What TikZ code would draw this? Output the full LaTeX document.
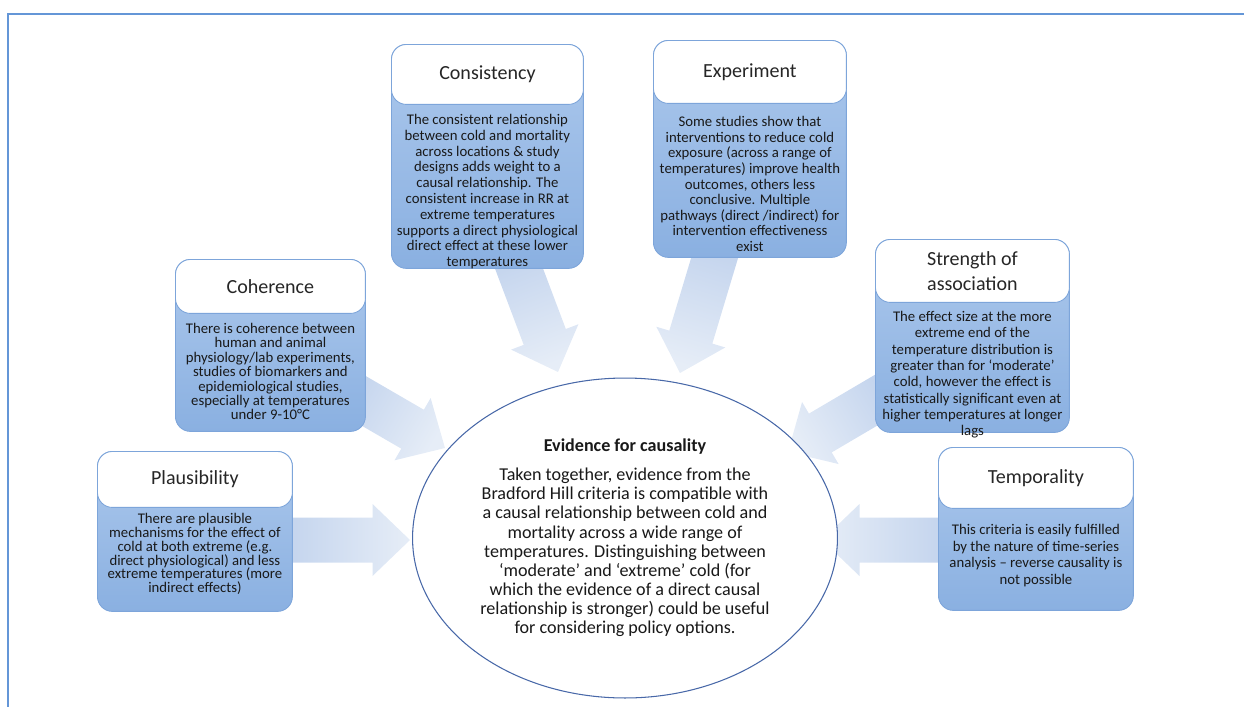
\documentclass[tikz,border=0pt]{standalone}
\usepackage{fontspec}
\setmainfont{Carlito}
\usetikzlibrary{positioning,calc,shapes.geometric}

\definecolor{boxtop}{RGB}{172,200,236}
\definecolor{boxbottom}{RGB}{138,176,225}
\definecolor{boxline}{RGB}{125,165,218}
\definecolor{arrowtail}{RGB}{194,211,237}
\definecolor{arrowhead}{RGB}{230,237,247}
\definecolor{frameblue}{RGB}{100,150,215}
\definecolor{ellipseline}{RGB}{72,104,168}

\tikzset{box body/.style={rounded corners=0.3cm,draw=boxline,line width=0.5pt,top color=boxtop,bottom color=boxbottom,anchor=north west,inner sep=0pt},
box head/.style={rounded corners=0.3cm,draw=boxline,line width=0.5pt,fill=white,anchor=north west,inner sep=0pt,align=center,font=\fontsize{11.4}{14.5}\selectfont,text=black!85},
box text/.style={inner sep=0pt,align=center,font=\fontsize{8.4}{9}\selectfont,text=black!90},
centre ellipse/.style={ellipse,draw=ellipseline,line width=0.6pt,fill=white,inner sep=0pt,align=center,font=\fontsize{10.3}{10.9}\selectfont,text=black!90},
block arrow/.style={top color=arrowhead,bottom color=arrowtail,draw=none,
  to path={let \p1=(\tikztostart),\p2=(\tikztotarget),\n1={atan2(\y2-\y1,\x2-\x1)} in
    ($(\tikztostart)+({\n1+90}:0.45cm)$) -- ($(\tikztotarget)+({\n1+180}:0.75cm)+({\n1+90}:0.45cm)$)
    -- ($(\tikztotarget)+({\n1+180}:0.75cm)+({\n1+90}:0.72cm)$) -- (\tikztotarget)
    -- ($(\tikztotarget)+({\n1+180}:0.75cm)+({\n1-90}:0.72cm)$) -- ($(\tikztotarget)+({\n1+180}:0.75cm)+({\n1-90}:0.45cm)$)
    -- ($(\tikztostart)+({\n1-90}:0.45cm)$) -- cycle}}}

\begin{document}
\begin{tikzpicture}[x=0.02cm,y=-0.02cm]
\useasboundingbox (0,0) rectangle (1244,707);

%% frame
\draw[frameblue,line width=1.2pt] (1244,14) -- (8,14) -- (8,707);

%% Coordinates of arrow ends.
\coordinate (a1) at (512,250);
\coordinate (a1p) at (558,372);
\coordinate (a2) at (720,240);
\coordinate (a2p) at (680,373);
\coordinate (a3) at (345,390);
\coordinate (a3p) at (445,448);
\coordinate (a4) at (280,540);
\coordinate (a4p) at (410,540);
\coordinate (a5) at (890,392);
\coordinate (a5p) at (788,452);
\coordinate (a6) at (950,540);
\coordinate (a6p) at (822,540);

%% block arrows
\path[block arrow,shading angle=-159.3] (a1) to (a1p);
\path[block arrow,shading angle=163.3] (a2) to (a2p);
\path[block arrow,shading angle=-120.1] (a3) to (a3p);
\path[block arrow,shading angle=-90] (a4) to (a4p);
\path[block arrow,shading angle=120.5] (a5) to (a5p);
\path[block arrow,shading angle=90] (a6) to (a6p);

%% criteria boxes
\node[box body,minimum width=3.84cm,minimum height=4.48cm] (cons) at (391,44) {};
\node[box head,minimum width=3.84cm,minimum height=1.2cm] (consh) at (cons.north west) {Consistency};
\node[box text,below=0.18cm of consh] (const) {The consistent relationship\\between cold and mortality\\across locations \& study\\designs adds weight to a\\causal relationship.  The\\consistent increase in RR at\\extreme temperatures\\supports a direct physiological\\direct effect at these lower\\temperatures};

\node[box body,minimum width=3.86cm,minimum height=4.34cm] (exper) at (653,40) {};
\node[box head,minimum width=3.86cm,minimum height=1.26cm] (experh) at (exper.north west) {Experiment};
\node[box text,below=0.24cm of experh,font=\fontsize{8.4}{8.9}\selectfont] (expert) {Some studies show that\\interventions to reduce cold\\exposure (across a range of\\temperatures) improve health\\outcomes, others less\\conclusive.  Multiple\\pathways (direct /indirect) for\\intervention effectiveness\\exist};

\node[box body,minimum width=3.8cm,minimum height=3.44cm] (coher) at (175,259) {};
\node[box head,minimum width=3.8cm,minimum height=1.08cm] (coherh) at (coher.north west) {Coherence};
\node[box text,below=0.18cm of coherh,font=\fontsize{8.4}{8.2}\selectfont] (cohert) {There is coherence between\\human and animal\\physiology/lab experiments,\\studies of biomarkers and\\epidemiological studies,\\especially at temperatures\\under 9-10°C};

\node[box body,minimum width=3.9cm,minimum height=3.2cm] (plaus) at (97,451) {};
\node[box head,minimum width=3.9cm,minimum height=1.12cm] (plaush) at (plaus.north west) {Plausibility};
\node[box text,below=0.1cm of plaush,font=\fontsize{8.4}{7.9}\selectfont] (plaust) {There are plausible\\mechanisms for the effect of\\cold at both extreme (e.g.\\direct physiological) and less\\extreme temperatures (more\\indirect effects)};

\node[box body,minimum width=3.88cm,minimum height=3.86cm] (stren) at (875,239) {};
\node[box head,minimum width=3.88cm,minimum height=1.26cm] (strenh) at (stren.north west) {Strength of\\association};
\node[box text,below=0.16cm of strenh,font=\fontsize{8.4}{9.3}\selectfont] (strent) {The effect size at the more\\extreme end of the\\temperature distribution is\\greater than for ‘moderate’\\cold, however the effect is\\statistically significant even at\\higher temperatures at longer\\lags};

\node[box body,minimum width=3.9cm,minimum height=3.26cm] (tempo) at (938,447) {};
\node[box head,minimum width=3.9cm,minimum height=1.22cm] (tempoh) at (tempo.north west) {Temporality};
\node[box text,below=0.3cm of tempoh,font=\fontsize{8.4}{9.5}\selectfont] (tempot) {This criteria is easily fulfilled\\by the nature of time-series\\analysis – reverse causality is\\not possible};

%% centre
\node[centre ellipse,minimum width=8.5cm,minimum height=6.4cm] (ev) at (625,538) {{\bfseries Evidence for causality}\\[5.5pt]Taken together, evidence from the\\Bradford Hill criteria is compatible with\\a causal relationship between cold and\\mortality across a wide range of\\temperatures. Distinguishing between\\‘moderate’ and ‘extreme’ cold (for\\which the evidence of a direct causal\\relationship is stronger) could be useful\\for considering policy options.};

\end{tikzpicture}
\end{document}
